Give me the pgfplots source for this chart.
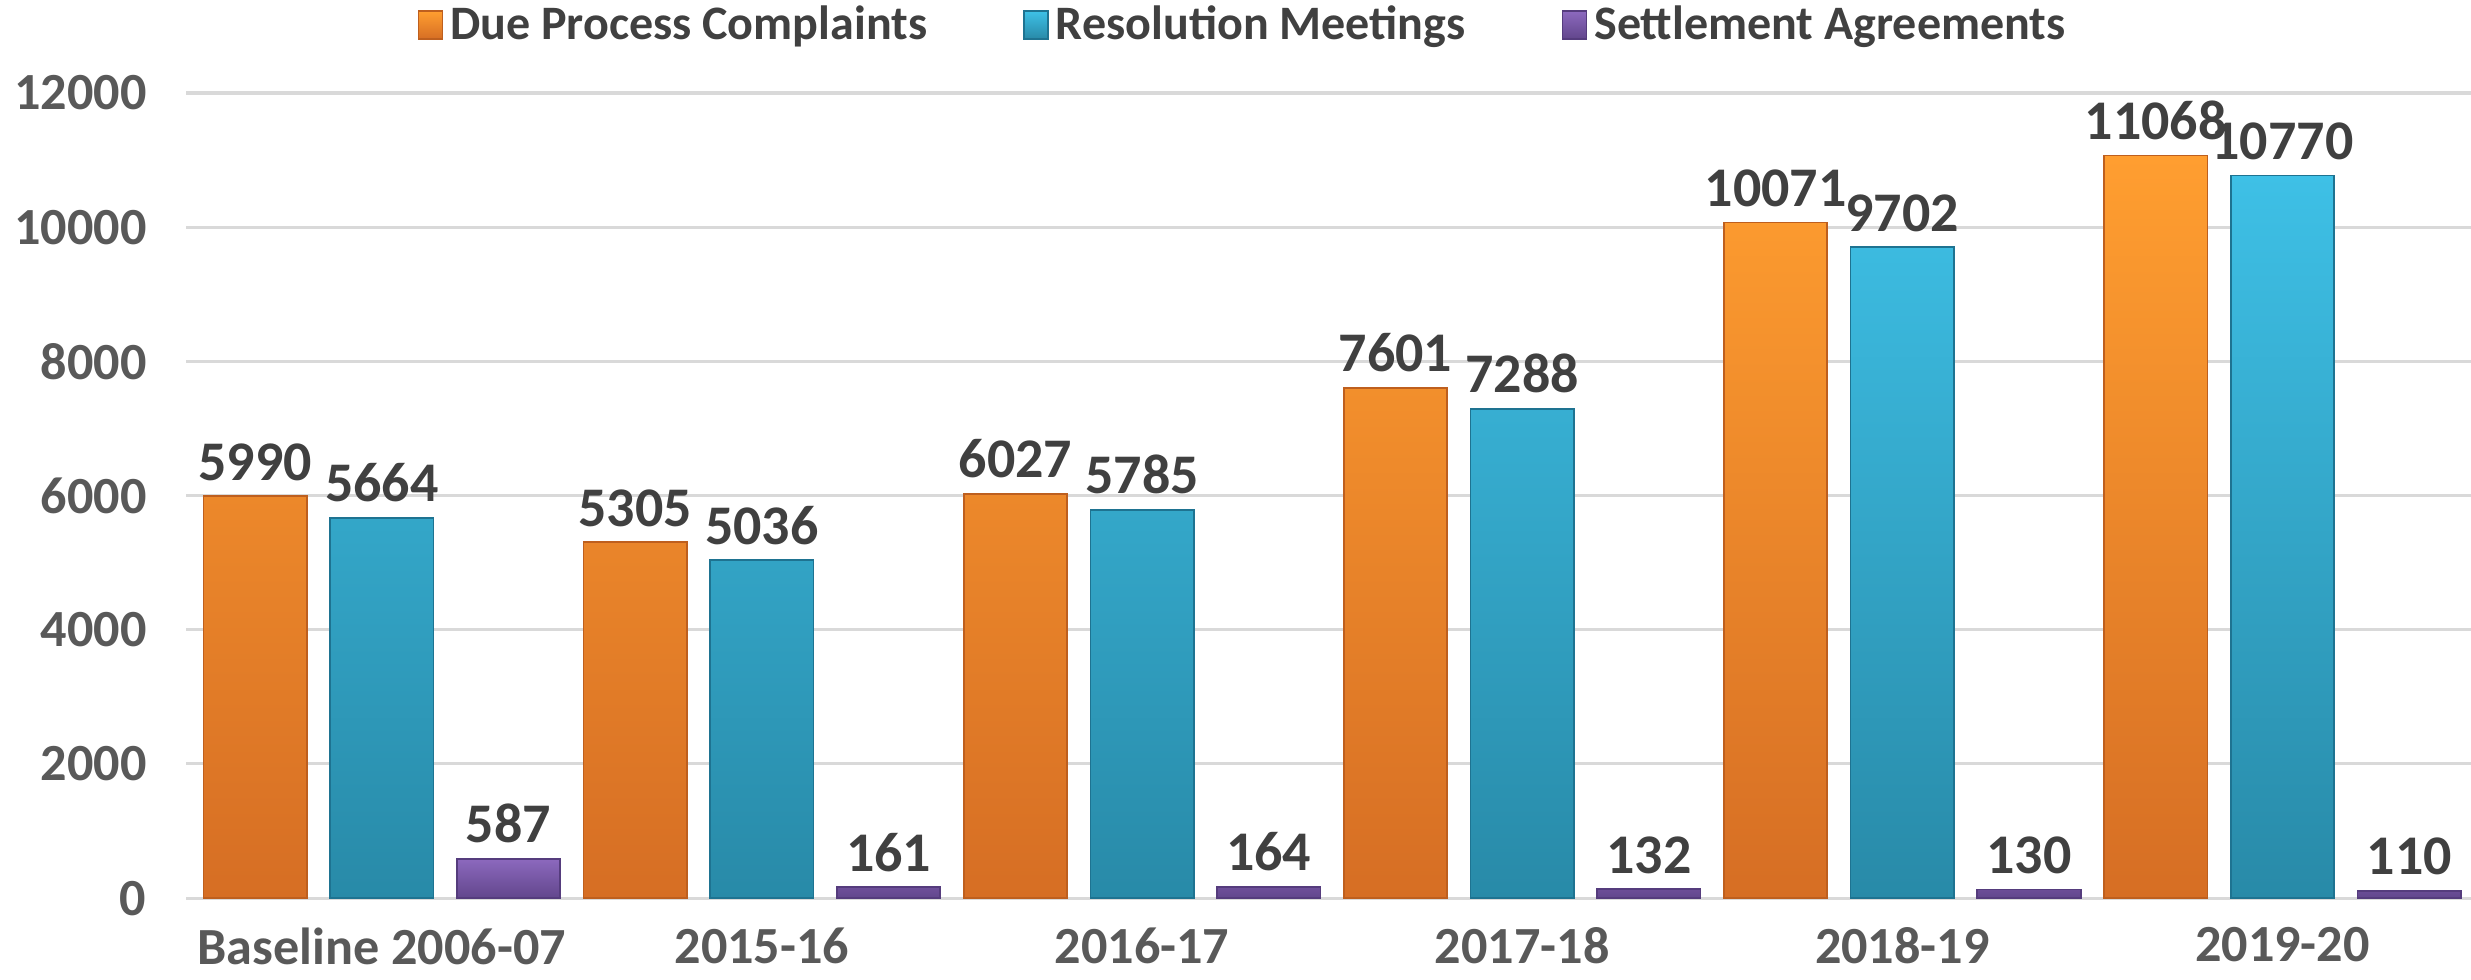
\documentclass[border=0pt]{standalone}
\usepackage{pgfplots}
\pgfplotsset{compat=1.18}
\usepackage{fontspec}
\setmainfont{Carlito}

\definecolor{orT}{RGB}{255,158,48}
\definecolor{orB}{RGB}{214,110,36}
\definecolor{orD}{RGB}{190,95,30}
\definecolor{blT}{RGB}{62,192,230}
\definecolor{blB}{RGB}{40,138,168}
\definecolor{blD}{RGB}{30,115,145}
\definecolor{puT}{RGB}{140,105,190}
\definecolor{puB}{RGB}{98,70,140}
\definecolor{puD}{RGB}{85,60,125}
\definecolor{gridc}{RGB}{217,217,217}
\definecolor{tickc}{RGB}{89,89,89}
\definecolor{valc}{RGB}{64,64,64}

\newcommand{\bigb}{\fontsize{14}{16}\selectfont\bfseries}
\newcommand{\tickb}{\fontsize{15.2}{17}\selectfont\bfseries}
\newcommand{\valb}{\fontsize{16.3}{18}\selectfont\bfseries}

\begin{document}
\begin{tikzpicture}
\begin{axis}[
    at={(0,0)}, anchor=south west,
    scale only axis,
    width=665.8pt, height=234.6pt,
    xmin=-0.515, xmax=5.496,
    ymin=0, ymax=12000,
    ytick={0,2000,...,12000},
    xtick={0,1,2,3,4,5},
    xticklabels={Baseline 2006-07,2015-16,2016-17,2017-18,2018-19,2019-20},
    major tick length=0pt,
    axis line style={draw=none},
    ymajorgrids,
    grid style={gridc, line width=0.9pt},
    /pgf/number format/assume math mode=true,
    /pgf/number format/1000 sep={},
    scaled y ticks=false,
    yticklabel style={font=\tickb, text=tickc, xshift=-8pt},
    xticklabel style={font=\tickb, text=tickc, yshift=-5pt},
    clip=false,
    ybar, bar width=0.272, bar shift=0pt,
    nodes near coords,
    every node near coord/.append style={font=\valb, text=valc, yshift=1pt},
    legend columns=3,
    legend style={draw=none, fill=none, font=\bigb, text=valc,
        at={(0.4635,1)}, anchor=center, yshift=19.8pt,
        /tikz/every even column/.append style={column sep=26pt}},
    legend image code/.code={\draw[#1] (0pt,-4pt) rectangle (7pt,4pt);},
]
\addplot[top color=orT, bottom color=orB, draw=orD, line width=0.5pt] coordinates {
(-0.3333,5990) (0.6667,5305) (1.6667,6027) (2.6667,7601) (3.6667,10071) (4.6667,11068)};
\addplot[top color=blT, bottom color=blB, draw=blD, line width=0.5pt] coordinates {
(0,5664) (1,5036) (2,5785) (3,7288) (4,9702) (5,10770)};
\addplot[top color=puT, bottom color=puB, draw=puD, line width=0.5pt] coordinates {
(0.3333,587) (1.3333,161) (2.3333,164) (3.3333,132) (4.3333,130) (5.3333,110)};
\legend{Due Process Complaints, Resolution Meetings, Settlement Agreements}
\end{axis}
\pgfresetboundingbox
\path (-54.2pt,-23.6pt) rectangle (665.8pt,261.7pt);
\end{tikzpicture}
\end{document}
